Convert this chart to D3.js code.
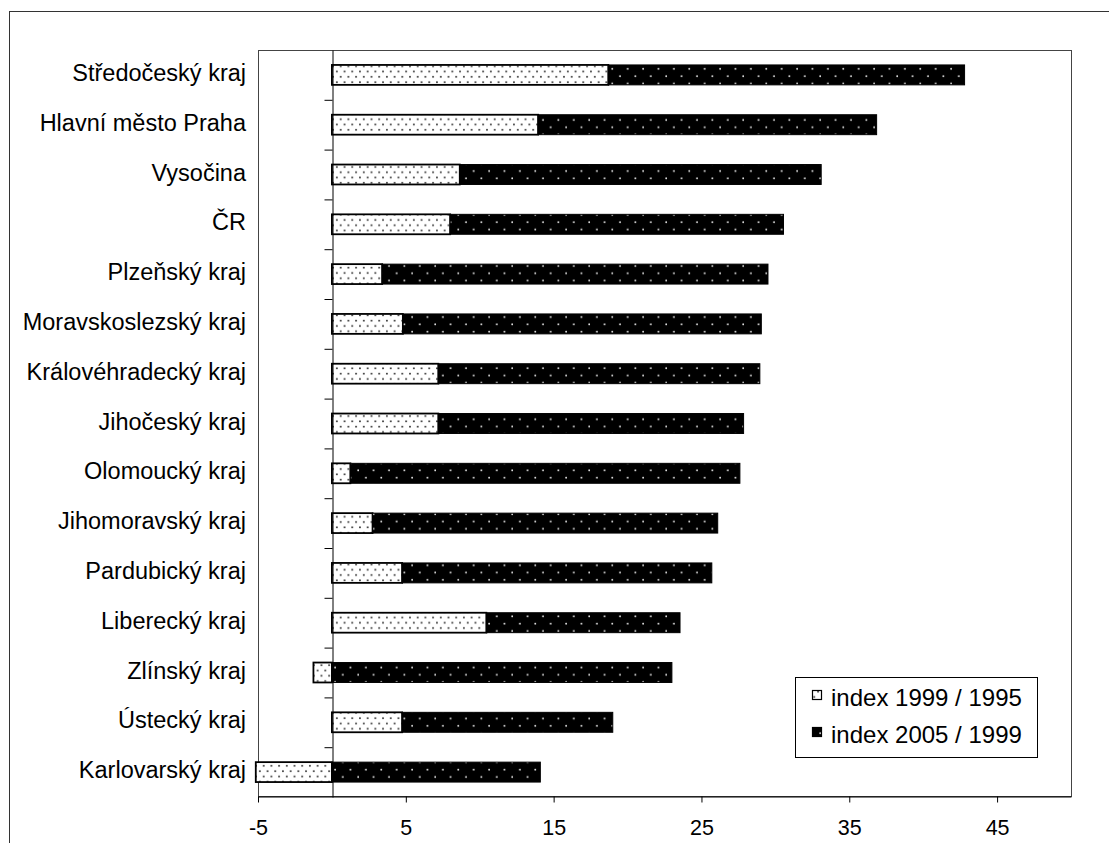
<!DOCTYPE html>
<html>
<head>
<meta charset="utf-8">
<script src="https://cdn.jsdelivr.net/npm/d3@7"></script>
<style>
  html, body { margin: 0; padding: 0; background: #fff; }
  svg { display: block; font-family: "Liberation Sans", Arial, sans-serif; }
</style>
</head>
<body>
<svg id="chart" width="1109" height="843"></svg>
<script>
const categories = [
  "Středočeský kraj", "Hlavní město Praha", "Vysočina", "ČR", "Plzeňský kraj",
  "Moravskoslezský kraj", "Královéhradecký kraj", "Jihočeský kraj", "Olomoucký kraj",
  "Jihomoravský kraj", "Pardubický kraj", "Liberecký kraj", "Zlínský kraj",
  "Ústecký kraj", "Karlovarský kraj"
];
const index9995 = [18.7, 13.95, 8.65, 8.0, 3.4, 4.8, 7.2, 7.2, 1.25, 2.75, 4.75, 10.45, -1.25, 4.75, -5.15];
const index0599 = [24.1, 22.9, 24.45, 22.55, 26.1, 24.25, 21.75, 20.65, 26.35, 23.35, 20.95, 13.1, 23.0, 14.25, 14.1];
const seriesNames = ["index 1999 / 1995", "index 2005 / 1999"];
const xTicks = [-5, 5, 15, 25, 35, 45];

const svg = d3.select("#chart");

// patterns
const defs = svg.append("defs");
const pLight = defs.append("pattern").attr("id", "pLight")
  .attr("patternUnits", "userSpaceOnUse").attr("width", 7.7).attr("height", 10.6);
pLight.append("rect").attr("width", 7.7).attr("height", 10.6).attr("fill", "#fff");
pLight.append("circle").attr("cx", 1.9).attr("cy", 2.6).attr("r", 0.9).attr("fill", "#222");
pLight.append("circle").attr("cx", 5.75).attr("cy", 7.9).attr("r", 0.9).attr("fill", "#222");

const pDark = defs.append("pattern").attr("id", "pDark")
  .attr("patternUnits", "userSpaceOnUse").attr("width", 15.4).attr("height", 14.6);
pDark.append("rect").attr("width", 15.4).attr("height", 14.6).attr("fill", "#000");
pDark.append("circle").attr("cx", 4).attr("cy", 3.2).attr("r", 0.9).attr("fill", "#eee");
pDark.append("circle").attr("cx", 11.7).attr("cy", 10.5).attr("r", 0.9).attr("fill", "#eee");

const fills = ["url(#pLight)", "url(#pDark)"];

// outer frame
svg.append("rect").attr("x", 9.5).attr("y", 11.5).attr("width", 1300).attr("height", 1000)
  .attr("fill", "none").attr("stroke", "#333").attr("stroke-width", 1);

const pLeft = 258, pRight = 1071, pTop = 50, pBottom = 797;

const x = d3.scaleLinear().domain([-5, 50]).range([pLeft, pRight]);
const y = d3.scaleBand().domain(categories).range([pTop, pBottom]).paddingInner(0.6).paddingOuter(0.3);

// plot area frame
svg.append("rect").attr("x", pLeft + 0.5).attr("y", pTop + 0.5)
  .attr("width", pRight - pLeft).attr("height", pBottom - pTop - 1)
  .attr("fill", "none").attr("stroke", "#444").attr("stroke-width", 1);

// data stack
const rows = categories.map((c, i) => ({ cat: c, a: index9995[i], b: index0599[i] }));
const stack = d3.stack().keys(["a", "b"]).offset(d3.stackOffsetDiverging);
const layers = stack(rows);

const g = svg.append("g");
layers.forEach((layer, li) => {
  g.append("g").selectAll("rect").data(layer).join("rect")
    .attr("x", d => x(Math.min(d[0], d[1])))
    .attr("y", d => y(d.data.cat))
    .attr("width", d => Math.abs(x(d[1]) - x(d[0])))
    .attr("height", y.bandwidth())
    .attr("fill", fills[li])
    .attr("stroke", "#000")
    .attr("stroke-width", li === 0 ? 1.8 : 1);
});

// x axis
const xAxis = svg.append("g").attr("transform", `translate(0,${pBottom - 0.5})`)
  .call(d3.axisBottom(x).tickValues(xTicks).tickSize(6).tickSizeOuter(0).tickPadding(17).tickFormat(d => String(d)));
xAxis.select(".domain").attr("stroke", "#000");
xAxis.selectAll(".tick line").attr("stroke", "#000");
xAxis.selectAll("text").attr("font-size", 21.5).attr("fill", "#000")
  .attr("font-family", "Liberation Sans, Arial, sans-serif");

// zero axis with ticks at band boundaries
const idx = d3.scaleLinear().domain([0, categories.length]).range([pTop, pBottom]);
const zeroAxis = svg.append("g").attr("transform", `translate(${Math.round(x(0)) + 0.5},0)`)
  .call(d3.axisLeft(idx).tickValues(d3.range(1, categories.length)).tickSize(8).tickSizeOuter(0).tickFormat(""));
zeroAxis.select(".domain").attr("stroke", "#000");
zeroAxis.selectAll(".tick line").attr("stroke", "#000");

// category labels
const catAxis = svg.append("g").attr("transform", `translate(246,0)`)
  .call(d3.axisLeft(y).tickSize(0).tickPadding(0));
catAxis.select(".domain").remove();
catAxis.selectAll("text").attr("font-size", 23.5).attr("fill", "#000").attr("dy", "0.26em")
  .attr("font-family", "Liberation Sans, Arial, sans-serif");

// legend
const lg = svg.append("g");
lg.append("rect").attr("x", 795.5).attr("y", 677.5).attr("width", 242).attr("height", 80)
  .attr("fill", "#fff").attr("stroke", "#000").attr("stroke-width", 1);
const legY = d3.scalePoint().domain(seriesNames).range([706, 743]);
seriesNames.forEach((s, i) => {
  lg.append("rect").attr("x", 812.5).attr("y", legY(s) - 15.5).attr("width", 9).attr("height", 9)
    .attr("fill", fills[i]).attr("stroke", "#000").attr("stroke-width", 1.2);
  lg.append("text").attr("x", 831).attr("y", legY(s)).attr("font-size", 24).attr("fill", "#000")
    .text(s);
});
</script>
</body>
</html>
